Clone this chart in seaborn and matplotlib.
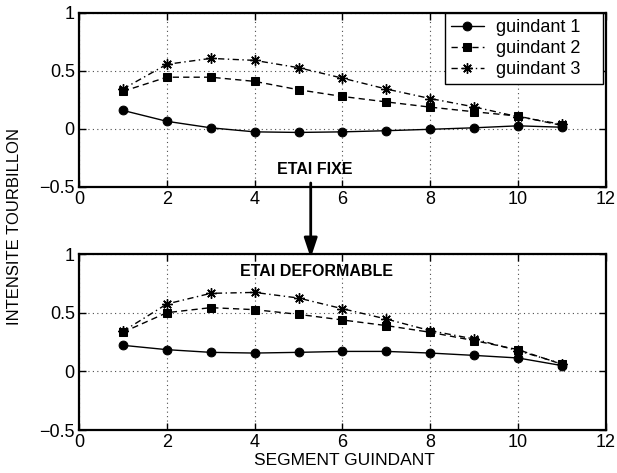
import numpy as np
import pandas as pd
import matplotlib
matplotlib.use("Agg")
import matplotlib.pyplot as plt
from matplotlib.patches import FancyArrowPatch
import seaborn as sns

segments = [1, 2, 3, 4, 5, 6, 7, 8, 9, 10, 11]
labels = ["guindant 1", "guindant 2", "guindant 3"]

fixe_g1 = [0.16, 0.066, 0.01, -0.025, -0.03, -0.025, -0.015, -0.003, 0.01, 0.027, 0.015]
fixe_g2 = [0.324, 0.446, 0.446, 0.41, 0.338, 0.28, 0.233, 0.188, 0.148, 0.111, 0.03]
fixe_g3 = [0.344, 0.557, 0.608, 0.591, 0.528, 0.438, 0.344, 0.262, 0.19, 0.105, 0.04]

def_g1 = [0.222, 0.185, 0.162, 0.156, 0.162, 0.17, 0.17, 0.156, 0.136, 0.114, 0.049]
def_g2 = [0.333, 0.5, 0.543, 0.526, 0.486, 0.438, 0.39, 0.333, 0.262, 0.185, 0.06]
def_g3 = [0.341, 0.574, 0.665, 0.673, 0.625, 0.534, 0.446, 0.347, 0.276, 0.176, 0.065]

xticks = [0, 2, 4, 6, 8, 10, 12]
yticks = [-0.5, 0, 0.5, 1]
ytick_labels = ["\u22120.5", "0", "0.5", "1"]

sns.set_style("ticks")
plt.rcParams["font.family"] = ["Liberation Sans", "DejaVu Sans"]
plt.rcParams["text.color"] = "black"
plt.rcParams["axes.labelcolor"] = "black"

fig = plt.figure(figsize=(6.17, 4.73), dpi=100)
ax1 = fig.add_axes([0.128, 0.6047, 0.854, 0.368])
ax2 = fig.add_axes([0.128, 0.0909, 0.854, 0.372])

styles = [
    dict(linestyle="-", marker="o", markersize=6.3),
    dict(linestyle=(0, (4.5, 3)), marker="s", markersize=5.2),
    dict(linestyle=(0, (4.5, 2.5, 1, 2.5)), marker=(8, 2, 0), markersize=7.5, markeredgewidth=1.0),
]

def draw(ax, series):
    for vals, lab, st in zip(series, labels, styles):
        df = pd.DataFrame({"x": segments, "y": vals})
        sns.lineplot(data=df, x="x", y="y", ax=ax, color="black", label=lab,
                     linewidth=1.0, markeredgecolor="black", markerfacecolor="black",
                     errorbar=None, **st)
    ax.set_xlim(0, 12)
    ax.set_ylim(-0.5, 1)
    ax.set_xticks(xticks)
    ax.set_yticks(yticks)
    ax.set_yticklabels(ytick_labels)
    ax.set_xlabel("")
    ax.set_ylabel("")
    ax.grid(True, linestyle=(0, (1, 3)), color="0.3", linewidth=0.8)
    ax.tick_params(direction="in", top=True, right=True, labelsize=13, length=5,
                   width=1.0, pad=3, colors="black")
    for sp in ax.spines.values():
        sp.set_visible(True)
        sp.set_linewidth(1.6)
        sp.set_color("black")

draw(ax1, [fixe_g1, fixe_g2, fixe_g3])
draw(ax2, [def_g1, def_g2, def_g3])

leg = ax1.legend(loc="upper right", bbox_to_anchor=(0.6945, 0.0, 0.2998, 1.0),
                 mode="expand", borderaxespad=0, fontsize=13, frameon=True,
                 fancybox=False, edgecolor="black", handlelength=1.8,
                 labelspacing=0.22, borderpad=0.35, handletextpad=0.7)
leg.get_frame().set_linewidth(1.0)
leg.get_frame().set_alpha(1)
for t in leg.get_texts():
    t.set_color("black")
ax2.get_legend().remove()

ax1.text(4.5, -0.35, "ETAI FIXE", fontsize=11.5, fontweight="bold", va="center",
         ha="left", color="black")
ax2.text(3.67, 0.85, "ETAI DEFORMABLE", fontsize=11.5, fontweight="bold", va="center",
         ha="left", color="black")

fig.add_artist(FancyArrowPatch(
    (0.5036, 1 - 183 / 473), (0.5036, 1 - 258 / 473), transform=fig.transFigure,
    arrowstyle="-|>,head_length=1.2,head_width=0.4", mutation_scale=10,
    linewidth=2.0, color="black", shrinkA=0, shrinkB=0))

fig.text(15 / 617, 1 - 226 / 473, "INTENSITE TOURBILLON", rotation=90,
         va="center", ha="center", fontsize=12, color="black")
fig.text(344.5 / 617, 1 - 460 / 473, "SEGMENT GUINDANT", va="center", ha="center",
         fontsize=12.5, color="black")

fig.savefig("out.png", dpi=100)
